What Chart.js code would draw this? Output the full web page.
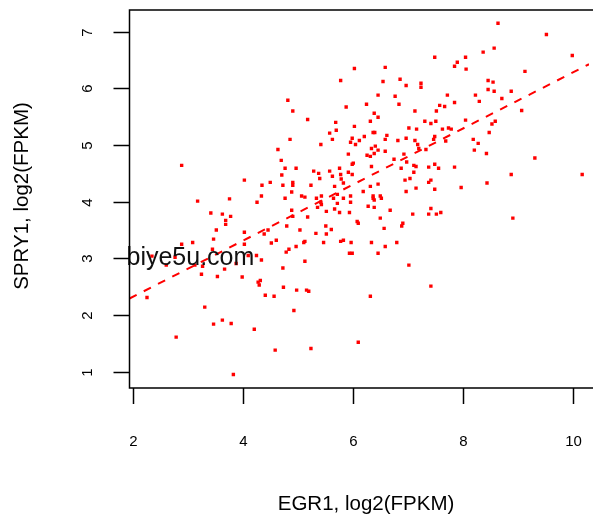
<!DOCTYPE html>
<html>
<head>
<meta charset="utf-8">
<script src="https://cdn.jsdelivr.net/npm/chart.js@4.4.1/dist/chart.umd.min.js"></script>
<style>
  body { margin: 0; background: #fff; }
  #wrap { width: 593px; height: 517px; }
</style>
</head>
<body>
<div id="wrap"><canvas id="scatter" width="593" height="517"></canvas></div>
<script>
// EGR1 (x) and SPRY1 (y), log2(FPKM)
const egr1 = [
  4.64,4.70,2.89,4.71,4.03,4.50,4.35,4.73,4.34,3.76,
  7.49,6.03,6.59,5.78,6.55,6.86,6.97,7.24,7.24,6.46,
  6.77,4.82,6.25,6.84,5.88,4.91,7.13,7.52,6.39,6.46,
  5.18,5.69,6.32,7.31,7.42,7.51,6.03,5.70,7.02,7.16,
  5.58,6.37,6.40,6.62,7.49,4.86,5.63,5.99,6.12,6.21,
  6.59,6.82,6.97,7.13,7.47,5.96,6.05,5.42,7.18,6.41,
  6.34,7.20,6.46,6.59,7.33,6.39,5.92,6.26,6.32,6.93,
  6.75,6.98,6.01,5.99,7.49,6.34,7.11,7.15,4.77,4.97,
  5.76,6.88,7.38,5.29,5.58,5.92,5.38,5.78,5.99,7.11,
  5.63,5.40,5.79,7.04,6.95,7.42,4.91,5.83,6.46,7.38,
  4.91,5.24,5.67,6.32,7.15,7.49,6.19,6.97,4.89,5.72,
  5.07,5.13,5.43,5.96,6.37,6.50,4.77,5.34,5.65,5.83,6.37,6.52,
  8.64,9.52,8.57,8.37,8.05,9.99,7.90,7.85,
  8.06,9.13,8.46,8.55,8.46,8.57,8.88,7.72,8.23,8.71,
  7.85,8.30,7.58,7.67,9.07,8.05,8.59,8.53,7.63,7.74,
  7.79,8.48,7.69,8.19,8.28,8.21,8.43,9.31,7.56,7.85,
  8.88,10.17,8.44,7.97,
  3.18,4.26,3.42,3.63,3.78,3.69,
  3.69,3.52,4.03,4.46,4.39,3.47,3.09,2.89,4.03,4.52,
  4.61,3.45,2.35,2.77,4.10,4.25,4.34,3.88,2.61,3.13,
  3.27,3.67,4.73,3.25,3.54,3.99,4.28,4.32,4.30,4.74,
  4.41,4.57,2.26,3.31,3.47,3.63,3.79,4.21,2.79,4.59,3.83,
  6.39,5.42,5.43,5.36,5.72,5.96,6.28,6.39,4.89,
  5.52,5.67,5.76,5.94,6.68,7.42,7.09,7.38,7.52,4.91,
  5.18,6.50,6.08,6.10,6.91,6.89,4.80,5.51,6.57,5.04,
  5.61,5.33,5.52,5.13,5.11,5.47,5.78,5.83,5.97,6.34,
  6.80,4.97,6.59,4.84,4.79,5.94,5.99,6.46,5.13,7.02,
  4.98,5.16,5.20,7.42,6.32,4.93,6.10,5.24,
  7.60,8.91
];
const spry1 = [
  4.92,4.73,4.64,4.47,4.38,4.34,4.29,4.29,4.10,4.05,
  6.55,6.35,6.37,6.14,6.12,6.16,6.05,6.09,6.02,5.88,
  5.86,5.79,5.72,5.72,5.67,5.60,5.60,5.60,5.56,5.49,
  5.45,5.40,5.42,5.42,5.38,5.42,5.33,5.26,5.30,5.28,
  5.21,5.22,5.22,5.17,5.15,5.10,5.10,5.12,5.08,5.15,
  5.10,5.08,5.12,5.08,5.10,5.05,5.01,5.01,5.01,4.98,
  4.94,4.94,4.91,4.89,4.92,4.85,4.84,4.82,4.80,4.84,
  4.75,4.70,4.68,4.66,4.66,4.62,4.64,4.62,4.59,4.59,
  4.59,4.59,4.61,4.54,4.54,4.52,4.50,4.48,4.48,4.52,
  4.45,4.41,4.40,4.41,4.38,4.38,4.34,4.33,4.31,4.34,
  4.29,4.29,4.27,4.27,4.24,4.22,4.18,4.18,4.17,4.13,
  4.10,4.08,4.10,4.10,4.10,4.10,4.06,4.06,4.06,4.06,4.06,4.06,
  7.15,6.95,6.71,6.64,6.55,6.58,6.46,6.39,
  6.34,6.30,6.14,6.11,5.98,5.95,5.95,5.88,5.88,5.82,
  5.75,5.77,5.70,5.68,5.61,5.44,5.42,5.37,5.28,5.30,
  5.28,5.22,5.07,5.10,5.03,4.91,4.85,4.77,4.59,4.61,
  4.48,4.48,4.33,4.25,
  4.01,3.99,3.80,3.78,3.74,3.67,
  3.60,3.50,3.46,3.50,3.43,3.34,3.28,3.25,3.25,3.27,
  3.32,3.16,3.04,3.02,3.05,3.05,2.97,2.91,2.88,2.88,
  2.86,2.81,2.83,2.72,2.68,2.67,2.58,2.61,2.53,2.49,
  2.35,2.33,2.31,2.14,1.84,1.91,1.85,1.75,1.61,1.38,0.95,
  4.03,3.99,3.95,3.90,3.97,3.99,3.92,3.90,3.85,
  3.83,3.87,3.81,3.81,3.85,3.88,3.78,3.78,3.78,3.74,
  3.73,3.71,3.65,3.62,3.62,3.57,3.57,3.57,3.53,3.50,
  3.51,3.44,3.43,3.30,3.28,3.28,3.30,3.32,3.28,3.28,
  3.28,3.21,3.21,3.16,3.11,3.09,3.09,3.09,2.95,2.88,
  2.44,2.44,2.42,2.51,2.33,2.08,1.52,1.41,
  3.81,3.71
];

const xTicks = [2, 4, 6, 8, 10];
const yTicks = [1, 2, 3, 4, 5, 6, 7];
const xTitle = "EGR1, log2(FPKM)";
const yTitle = "SPRY1, log2(FPKM)";
const watermark = "biye5u.com";

// regression line (abline of lm)
const fitIntercept = 1.33;
const fitSlope = 0.495;

// visible axis range (plot is cropped on the right)
const xMin = 1.942, xMax = 10.294;
const yMin = 0.712, yMax = 7.383;

const FONT = '"Liberation Sans", Arial, sans-serif';

const points = egr1.map((v, i) => ({ x: v, y: spry1[i] }));
const fitLine = [xMin, xMax].map(v => ({ x: v, y: fitIntercept + fitSlope * v }));

// R base-graphics style box, ticks and labels
const rAxes = {
    id: "rAxes",
    afterDatasetsDraw(chart) {
        const ctx = chart.ctx;
        const area = chart.chartArea;
        const sx = chart.scales.x;
        const sy = chart.scales.y;

        ctx.save();
        // watermark over the points
        ctx.fillStyle = "#111";
        ctx.font = "25px " + FONT;
        ctx.textAlign = "left";
        ctx.textBaseline = "alphabetic";
        ctx.fillText(watermark, 126.5, 265);

        ctx.strokeStyle = "#000";
        ctx.lineWidth = 1.5;
        ctx.beginPath();
        ctx.moveTo(area.right + 5, area.top);
        ctx.lineTo(area.left, area.top);
        ctx.lineTo(area.left, area.bottom);
        ctx.lineTo(area.right + 5, area.bottom);
        ctx.stroke();

        // x ticks
        ctx.fillStyle = "#000";
        ctx.font = "15px " + FONT;
        ctx.textAlign = "center";
        xTicks.forEach(t => {
            const px = Math.round(sx.getPixelForValue(t)) + 0.5;
            ctx.beginPath();
            ctx.moveTo(px, area.bottom);
            ctx.lineTo(px, area.bottom + 16);
            ctx.stroke();
            ctx.fillText(String(t), px, 446);
        });

        // y ticks, labels turned like las = 0
        yTicks.forEach(t => {
            const py = Math.round(sy.getPixelForValue(t)) + 0.5;
            ctx.beginPath();
            ctx.moveTo(area.left, py);
            ctx.lineTo(area.left - 16, py);
            ctx.stroke();
            ctx.save();
            ctx.translate(92, py);
            ctx.rotate(-Math.PI / 2);
            ctx.fillText(String(t), 0, 0);
            ctx.restore();
        });

        // axis titles
        ctx.font = "20.5px " + FONT;
        ctx.fillText(xTitle, 366, 510);
        ctx.save();
        ctx.translate(28, 196);
        ctx.rotate(-Math.PI / 2);
        ctx.fillText(yTitle, 0, 0);
        ctx.restore();
        ctx.restore();
    }
};

new Chart(document.getElementById("scatter"), {
    type: "scatter",
    data: {
        datasets: [
            {
                type: "line",
                data: fitLine,
                borderColor: "#FF0000",
                borderWidth: 2,
                borderDash: [8, 8],
                pointRadius: 0,
                fill: false
            },
            {
                data: points,
                pointStyle: "rect",
                pointRadius: 2.4,
                pointBorderWidth: 0,
                backgroundColor: "#FF0000",
                borderColor: "#FF0000"
            }
        ]
    },
    options: {
        responsive: false,
        animation: false,
        devicePixelRatio: 1,
        layout: { padding: { left: 129.5, top: 10, right: 0, bottom: 129 } },
        plugins: { legend: { display: false }, tooltip: { enabled: false } },
        scales: {
            x: { type: "linear", min: xMin, max: xMax, display: false },
            y: { type: "linear", min: yMin, max: yMax, display: false }
        }
    },
    plugins: [rAxes]
});
</script>
</body>
</html>
